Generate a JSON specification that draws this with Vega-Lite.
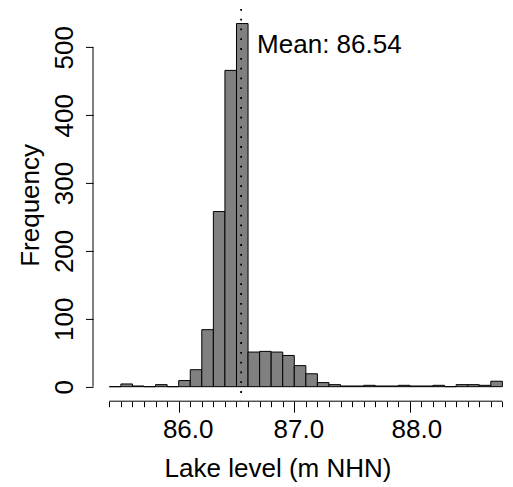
{
  "$schema": "https://vega.github.io/schema/vega-lite/v6.json",
  "width": 420,
  "height": 392.3,
  "autosize": "none",
  "padding": {"left": 93, "top": 8.9, "right": 0, "bottom": 85.8},
  "background": "white",
  "config": {
    "view": {"stroke": null},
    "axis": {
      "labelFont": "Liberation Sans", "labelFontSize": 26, "labelColor": "black",
      "titleFont": "Liberation Sans", "titleFontSize": 26, "titleColor": "black", "titleFontWeight": "normal",
      "tickColor": "black", "tickWidth": 1, "grid": false, "domain": false
    }
  },
  "datasets": {
    "bins": [
      {"lo": 85.4, "hi": 85.5, "n": 0},
      {"lo": 85.5, "hi": 85.6, "n": 4},
      {"lo": 85.6, "hi": 85.7, "n": 1},
      {"lo": 85.7, "hi": 85.8, "n": 0},
      {"lo": 85.8, "hi": 85.9, "n": 3},
      {"lo": 85.9, "hi": 86.0, "n": 0},
      {"lo": 86.0, "hi": 86.1, "n": 9},
      {"lo": 86.1, "hi": 86.2, "n": 25},
      {"lo": 86.2, "hi": 86.3, "n": 84},
      {"lo": 86.3, "hi": 86.4, "n": 258},
      {"lo": 86.4, "hi": 86.5, "n": 466},
      {"lo": 86.5, "hi": 86.6, "n": 535},
      {"lo": 86.6, "hi": 86.7, "n": 51},
      {"lo": 86.7, "hi": 86.8, "n": 52},
      {"lo": 86.8, "hi": 86.9, "n": 51},
      {"lo": 86.9, "hi": 87.0, "n": 46},
      {"lo": 87.0, "hi": 87.1, "n": 31},
      {"lo": 87.1, "hi": 87.2, "n": 19},
      {"lo": 87.2, "hi": 87.3, "n": 6},
      {"lo": 87.3, "hi": 87.4, "n": 3},
      {"lo": 87.4, "hi": 87.5, "n": 1},
      {"lo": 87.5, "hi": 87.6, "n": 1},
      {"lo": 87.6, "hi": 87.7, "n": 2},
      {"lo": 87.7, "hi": 87.8, "n": 1},
      {"lo": 87.8, "hi": 87.9, "n": 1},
      {"lo": 87.9, "hi": 88.0, "n": 2},
      {"lo": 88.0, "hi": 88.1, "n": 1},
      {"lo": 88.1, "hi": 88.2, "n": 1},
      {"lo": 88.2, "hi": 88.3, "n": 2},
      {"lo": 88.3, "hi": 88.4, "n": 0},
      {"lo": 88.4, "hi": 88.5, "n": 3},
      {"lo": 88.5, "hi": 88.6, "n": 3},
      {"lo": 88.6, "hi": 88.7, "n": 2},
      {"lo": 88.7, "hi": 88.8, "n": 8}
    ],
    "mean": [{"label": "Mean: 86.54", "value": 86.54}]
  },
  "layer": [
    {
      "data": {"name": "bins"},
      "mark": {"type": "bar", "fill": "#808080", "stroke": "black", "strokeWidth": 1},
      "encoding": {
        "x": {
          "field": "lo", "type": "quantitative", "title": "Lake level (m NHN)",
          "scale": {"domain": [85.2587, 88.892], "nice": false, "zero": false},
          "axis": {
            "values": [85.4, 85.5, 85.6, 85.7, 85.8, 85.9, 86, 86.1, 86.2, 86.3, 86.4, 86.5, 86.6, 86.7, 86.8, 86.9, 87, 87.1, 87.2, 87.3, 87.4, 87.5, 87.6, 87.7, 87.8, 87.9, 88, 88.1, 88.2, 88.3, 88.4, 88.5, 88.6, 88.7, 88.8],
            "tickCount": 100,
            "tickSize": {"condition": {"test": "datum.value == 86 || datum.value == 87 || datum.value == 88", "value": 11}, "value": 5.5},
            "labelExpr": "datum.value == 86 || datum.value == 87 || datum.value == 88 ? format(datum.value, '.1f') : ''",
            "labelOffset": {"condition": [{"test": "datum.value == 86", "value": 9}, {"test": "datum.value == 87", "value": 4}], "value": 6.5},
            "labelBaseline": "alphabetic",
            "labelPadding": 25,
            "labelAngle": 0,
            "labelOverlap": false,
            "labelFlush": false,
            "titleX": 184.5, "titleY": 75.5, "titleAlign": "center", "titleBaseline": "alphabetic", "titleAnchor": null
          }
        },
        "x2": {"field": "hi"},
        "y": {
          "field": "n", "type": "quantitative", "title": "Frequency",
          "scale": {"domain": [-21.4, 556.6], "nice": false, "zero": false},
          "axis": {
            "values": [0, 100, 200, 300, 400, 500],
            "tickCount": 20,
            "tickSize": 7.5,
            "labelAngle": -90, "labelAlign": "center", "labelBaseline": "alphabetic", "labelPadding": 13.5,
            "titleX": -54.7, "titleY": 196, "titleAngle": -90, "titleAlign": "center", "titleBaseline": "alphabetic"
          }
        },
        "y2": {"datum": 0}
      }
    },
    {
      "data": {"values": [{}]},
      "mark": {"type": "rule", "color": "black", "strokeWidth": 1},
      "encoding": {
        "x": {"datum": 85.4, "type": "quantitative", "title": "Lake level (m NHN)"},
        "x2": {"datum": 88.8},
        "y": {"datum": -21.4, "type": "quantitative", "title": "Frequency"}
      }
    },
    {
      "data": {"values": [{}]},
      "mark": {"type": "rule", "color": "black", "strokeWidth": 1},
      "encoding": {
        "x": {"datum": 85.2587, "type": "quantitative", "title": "Lake level (m NHN)"},
        "y": {"datum": 0, "type": "quantitative", "title": "Frequency"},
        "y2": {"datum": 500}
      }
    },
    {
      "data": {"name": "mean"},
      "mark": {"type": "rule", "color": "black", "strokeWidth": 1.8, "strokeDash": [1.8, 8]},
      "encoding": {
        "x": {"field": "value", "type": "quantitative", "title": "Lake level (m NHN)"}
      }
    },
    {
      "data": {"name": "mean"},
      "mark": {"type": "text", "align": "left", "baseline": "alphabetic", "dx": 16, "font": "Liberation Sans", "fontSize": 26, "color": "black"},
      "encoding": {
        "x": {"field": "value", "type": "quantitative", "title": "Lake level (m NHN)"},
        "y": {"datum": 491.2, "type": "quantitative", "title": "Frequency"},
        "text": {"field": "label"}
      }
    }
  ]
}
